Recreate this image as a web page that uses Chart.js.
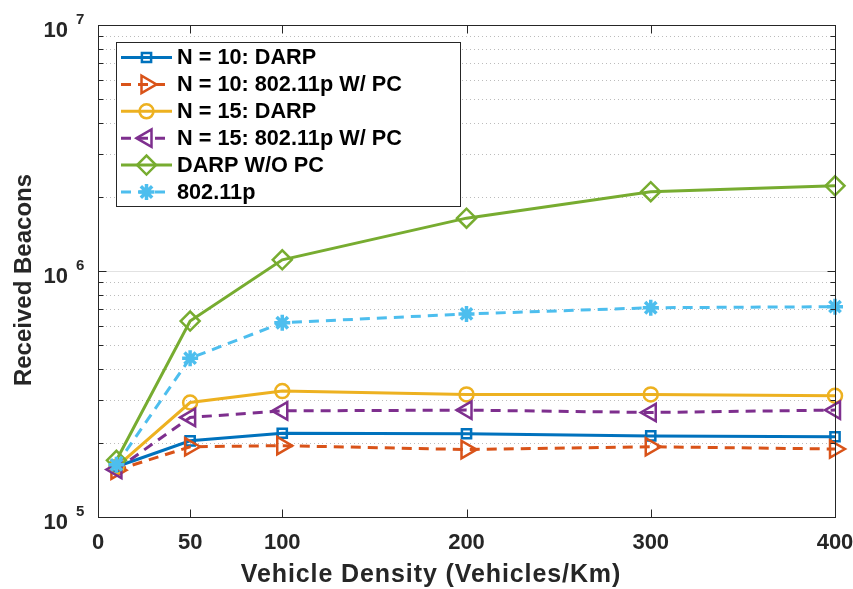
<!DOCTYPE html>
<html>
<head>
<meta charset="utf-8">
<script src="https://cdn.jsdelivr.net/npm/chart.js@4.4.0/dist/chart.umd.min.js"></script>
<style>
  html, body { margin: 0; padding: 0; background: #fff; }
  #wrap { width: 853px; height: 589px; }
</style>
</head>
<body>
<div id="wrap"><canvas id="beacons" width="853" height="589"></canvas></div>
<script>
// vehicle densities (vehicles/km) where each run was measured
const densities = [10, 50, 100, 200, 300, 400];
const xTickValues = [0, 50, 100, 200, 300, 400];
const yDecades = [5, 6, 7];

const seriesNames = [
  'N = 10: DARP',
  'N = 10: 802.11p W/ PC',
  'N = 15: DARP',
  'N = 15: 802.11p W/ PC',
  'DARP W/O PC',
  '802.11p'
];

// received beacons per run
const darpN10 = [1.60e5, 2.04e5, 2.19e5, 2.18e5, 2.135e5, 2.12e5];
const pcN10 = [1.55e5, 1.93e5, 1.95e5, 1.88e5, 1.93e5, 1.89e5];
const darpN15 = [1.60e5, 2.92e5, 3.25e5, 3.15e5, 3.15e5, 3.11e5];
const pcN15 = [1.56e5, 2.54e5, 2.70e5, 2.72e5, 2.66e5, 2.72e5];
const darpNoPc = [1.70e5, 6.26e5, 1.11e6, 1.64e6, 2.10e6, 2.22e6];
const plain80211p = [1.63e5, 4.42e5, 6.16e5, 6.69e5, 7.09e5, 7.16e5];

const seriesValues = [darpN10, pcN10, darpN15, pcN15, darpNoPc, plain80211p];

const FONT = '"Liberation Sans", Arial, Helvetica, sans-serif';
const INK = '#262626';
const LINE_W = 3;

const looks = [
  { color: '#0072BD', dash: [], pointStyle: 'rect', rotation: 0, radius: 6.5, mw: 2.5 },
  { color: '#D95319', dash: [10, 7], pointStyle: 'triangle', rotation: 90, radius: 10, mw: 2.5 },
  { color: '#EDB120', dash: [], pointStyle: 'circle', rotation: 0, radius: 7, mw: 2.5 },
  { color: '#7E2F8E', dash: [10, 7], pointStyle: 'triangle', rotation: -90, radius: 10, mw: 2.5 },
  { color: '#77AC30', dash: [], pointStyle: 'rectRot', rotation: 0, radius: 9.5, mw: 2.5 },
  { color: '#4DBEEE', dash: [10, 7], pointStyle: 'star', rotation: 0, radius: 8, mw: 3.5 }
];

const datasets = seriesValues.map((vals, i) => ({
  label: seriesNames[i],
  data: vals.map((v, k) => ({ x: densities[k], y: v })),
  borderColor: looks[i].color,
  borderWidth: LINE_W,
  borderDash: looks[i].dash,
  fill: false,
  tension: 0,
  pointStyle: looks[i].pointStyle,
  pointRotation: looks[i].rotation,
  pointRadius: looks[i].radius,
  pointBorderWidth: looks[i].mw,
  pointBorderColor: looks[i].color,
  pointBackgroundColor: 'rgba(0,0,0,0)',
  clip: false,
  order: seriesValues.length - i
}));

function hline(ctx, x0, x1, y) {
  ctx.beginPath();
  ctx.moveTo(x0, y);
  ctx.lineTo(x1, y);
  ctx.stroke();
}

function vline(ctx, x, y0, y1) {
  ctx.beginPath();
  ctx.moveTo(x, y0);
  ctx.lineTo(x, y1);
  ctx.stroke();
}

// grid under the data
const gridPlugin = {
  id: 'grid',
  beforeDatasetsDraw(chart) {
    const { ctx, chartArea: a, scales: { y } } = chart;
    ctx.save();
    ctx.lineWidth = 1;
    yDecades.forEach((d, k) => {
      const base = 10 ** d;
      if (k > 0 && k < yDecades.length - 1) {
        ctx.setLineDash([]);
        ctx.strokeStyle = '#e2e2e2';
        hline(ctx, a.left, a.right, Math.round(y.getPixelForValue(base)) + 0.5);
      }
      if (k < yDecades.length - 1) {
        ctx.setLineDash([1, 3]);
        ctx.strokeStyle = '#bcbcbc';
        for (let m = 2; m <= 9; m++) {
          hline(ctx, a.left, a.right, Math.round(y.getPixelForValue(m * base)) + 0.5);
        }
      }
    });
    ctx.restore();
  }
};

// box, ticks, labels and legend on top
const framePlugin = {
  id: 'frame',
  afterDatasetsDraw(chart) {
    const { ctx, chartArea: a, scales: { x, y } } = chart;
    const L = Math.round(a.left) + 0.5, R = Math.round(a.right) + 0.5;
    const T = Math.round(a.top) + 0.5, B = Math.round(a.bottom) + 0.5;
    ctx.save();
    ctx.setLineDash([]);
    ctx.strokeStyle = INK;
    ctx.lineWidth = 1;
    ctx.strokeRect(L, T, R - L, B - T);

    // x ticks, top and bottom
    xTickValues.forEach(v => {
      const px = Math.round(x.getPixelForValue(v)) + 0.5;
      vline(ctx, px, B, B - 8);
      vline(ctx, px, T, T + 8);
    });
    // y ticks, left and right
    yDecades.forEach((d, k) => {
      const py = Math.round(y.getPixelForValue(10 ** d)) + 0.5;
      hline(ctx, L, L + 8, py);
      hline(ctx, R, R - 8, py);
      if (k < yDecades.length - 1) {
        for (let m = 2; m <= 9; m++) {
          const pm = Math.round(y.getPixelForValue(m * 10 ** d)) + 0.5;
          hline(ctx, L, L + 5, pm);
          hline(ctx, R, R - 5, pm);
        }
      }
    });

    ctx.fillStyle = INK;
    ctx.font = 'bold 22px ' + FONT;
    ctx.textAlign = 'center';
    ctx.textBaseline = 'alphabetic';
    xTickValues.forEach(v => ctx.fillText(String(v), x.getPixelForValue(v), 549));

    yDecades.forEach(d => {
      const py = y.getPixelForValue(10 ** d);
      ctx.font = 'bold 22px ' + FONT;
      ctx.textAlign = 'right';
      ctx.fillText('10', 68, py + 12);
      ctx.font = 'bold 15px ' + FONT;
      ctx.textAlign = 'left';
      ctx.fillText(String(d), 76, py - 1);
    });

    ctx.font = 'bold 25px ' + FONT;
    ctx.textAlign = 'center';
    ctx.letterSpacing = '0.9px';
    ctx.fillText('Vehicle Density (Vehicles/Km)', 431, 582);
    ctx.letterSpacing = '0px';

    ctx.save();
    ctx.translate(31, 280);
    ctx.rotate(-Math.PI / 2);
    ctx.font = 'bold 24px ' + FONT;
    ctx.fillText('Received Beacons', 0, 0);
    ctx.restore();

    // legend
    const box = { x: 116, y: 42, w: 344, h: 164 };
    ctx.fillStyle = '#fff';
    ctx.fillRect(box.x, box.y, box.w, box.h);
    ctx.strokeStyle = INK;
    ctx.strokeRect(box.x + 0.5, box.y + 0.5, box.w, box.h);
    ctx.font = 'bold 21.7px ' + FONT;
    ctx.textAlign = 'left';
    ctx.textBaseline = 'middle';
    seriesNames.forEach((name, i) => {
      const ry = 57.5 + i * 26.9;
      const lk = looks[i];
      ctx.strokeStyle = lk.color;
      ctx.lineWidth = LINE_W;
      ctx.setLineDash(lk.dash);
      hline(ctx, 121, 172, ry);
      ctx.setLineDash([]);
      ctx.lineWidth = lk.mw;
      ctx.fillStyle = 'rgba(0,0,0,0)';
      Chart.helpers.drawPoint(ctx, {
        pointStyle: lk.pointStyle,
        rotation: lk.rotation,
        radius: lk.radius,
        borderWidth: lk.mw
      }, 146.5, ry);
      ctx.fillStyle = '#000';
      ctx.fillText(name, 177, ry + 1);
    });
    ctx.restore();
  }
};

new Chart(document.getElementById('beacons'), {
  type: 'line',
  data: { datasets },
  options: {
    responsive: false,
    animation: false,
    events: [],
    layout: { padding: { left: 98, right: 18, top: 25, bottom: 72 } },
    scales: {
      x: { type: 'linear', min: 0, max: 400, display: false },
      y: { type: 'logarithmic', min: 1e5, max: 1e7, display: false }
    },
    plugins: {
      legend: { display: false },
      tooltip: { enabled: false }
    }
  },
  plugins: [gridPlugin, framePlugin]
});
</script>
</body>
</html>
